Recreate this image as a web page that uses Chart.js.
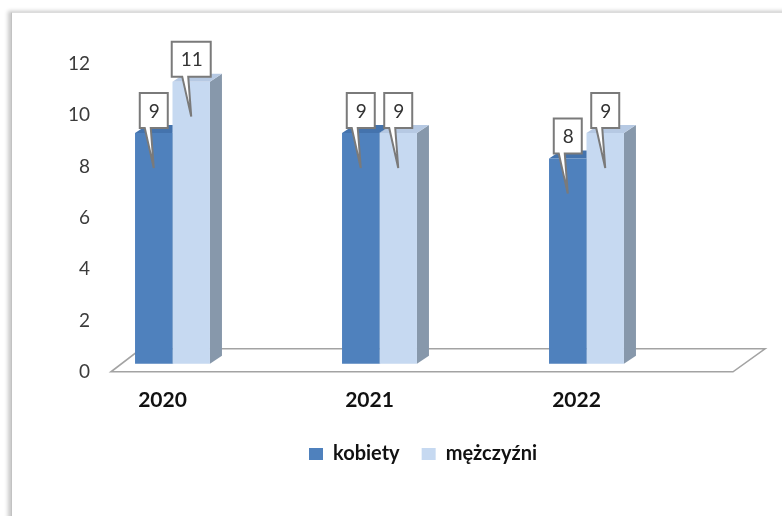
<!DOCTYPE html>
<html>
<head>
<meta charset="utf-8">
<script src="https://cdn.jsdelivr.net/npm/chart.js@4/dist/chart.umd.min.js"></script>
<style>
  html, body { margin: 0; padding: 0; background: #fff; }
  #wrap { position: relative; width: 782px; height: 516px; overflow: hidden; background: #fff; }
  #frame {
    position: absolute; left: 11px; top: 12px; width: 820px; height: 560px;
    background: #fff;
    border-left: 1px solid #c2c2c2; border-top: 1px solid #dcdcdc;
    box-shadow: -3px -1px 4px rgba(0, 0, 0, 0.22);
  }
  #chart { position: absolute; left: 0; top: 0; }
</style>
</head>
<body>
<div id="wrap">
  <div id="frame"></div>
  <canvas id="chart" width="782" height="516"></canvas>
</div>
<script>
// Chart data
const years = ['2020', '2021', '2022'];
const kobiety = [9, 9, 8];
const mezczyzni = [11, 9, 9];
const yTicks = [0, 2, 4, 6, 8, 10, 12];

const FONT = 'Lato, "Open Sans", sans-serif';

// Fake 3D: depth of each prism and how far the bars sit behind the floor's front edge
const DEPTH_X = 12, DEPTH_Y = -8;
const SHIFT_X = 10, SHIFT_Y = -8;

const faces = [
  { top: '#4473ad', side: '#3b618f' },   // kobiety
  { top: '#b6c9e3', side: '#8798ab' }    // mężczyźni
];

function poly(ctx, pts, fill) {
  ctx.beginPath();
  ctx.moveTo(pts[0][0], pts[0][1]);
  for (let i = 1; i < pts.length; i++) ctx.lineTo(pts[i][0], pts[i][1]);
  ctx.closePath();
  ctx.fillStyle = fill;
  ctx.fill();
}

const prismPlugin = {
  id: 'prism',
  afterLayout(chart) {
    // move the legend row under the bars
    const lg = chart.legend;
    if (!lg || !lg.lineWidths) return;
    const pad = lg.options.labels.padding;
    const startX = (lg.left + pad + lg.right - lg.lineWidths[0]) / 2;
    const dx = 309 - startX;
    lg.left += dx; lg.right += dx;
    lg.top -= 7; lg.bottom -= 7;
  },
  beforeDatasetsDraw(chart) {
    const { ctx, chartArea: a, scales: { y } } = chart;
    const y0 = y.getPixelForValue(0);
    // floor
    ctx.save();
    ctx.beginPath();
    ctx.moveTo(a.left + 52, y0);
    ctx.lineTo(a.right + 53, y0);
    ctx.lineTo(a.right + 85, y0 - 23);
    ctx.lineTo(a.left + 82, y0 - 23);
    ctx.closePath();
    ctx.fillStyle = '#ffffff';
    ctx.fill();
    ctx.strokeStyle = '#a3a3a3';
    ctx.lineWidth = 1.6;
    ctx.stroke();
    ctx.restore();

    // top and side faces, then the library draws the front faces on top
    ctx.save();
    ctx.translate(SHIFT_X, SHIFT_Y);
    chart.data.datasets.forEach((ds, i) => {
      chart.getDatasetMeta(i).data.forEach(bar => {
        const { x, y: t, base, width } = bar.getProps(['x', 'y', 'base', 'width'], true);
        const l = x - width / 2, r = x + width / 2;
        poly(ctx, [[r, t], [r + DEPTH_X, t + DEPTH_Y], [r + DEPTH_X, base + DEPTH_Y], [r, base]], faces[i].side);
        poly(ctx, [[l, t], [r, t], [r + DEPTH_X, t + DEPTH_Y], [l + DEPTH_X, t + DEPTH_Y]], faces[i].top);
      });
    });
  },
  afterDatasetsDraw(chart) {
    const { ctx } = chart;
    ctx.restore();

    // value callouts
    ctx.save();
    ctx.translate(SHIFT_X, SHIFT_Y);
    ctx.font = '19px ' + FONT;
    ctx.textAlign = 'center';
    ctx.textBaseline = 'middle';
    chart.data.datasets.forEach((ds, i) => {
      chart.getDatasetMeta(i).data.forEach((bar, j) => {
        const txt = String(ds.data[j]);
        const w = txt.length > 1 ? 39 : 28, h = 35;
        const cx = bar.x;
        const bottom = bar.y - 5, top = bottom - h;
        const l = cx - w / 2, r = cx + w / 2;
        const tipY = bar.y + 35;
        ctx.beginPath();
        ctx.moveTo(l, top);
        ctx.lineTo(r, top);
        ctx.lineTo(r, bottom);
        ctx.lineTo(cx - 3, bottom);
        ctx.lineTo(cx, tipY);
        ctx.lineTo(cx - 9, bottom);
        ctx.lineTo(l, bottom);
        ctx.closePath();
        ctx.fillStyle = '#ffffff';
        ctx.fill();
        ctx.strokeStyle = '#7a7a7a';
        ctx.lineWidth = 2;
        ctx.lineJoin = 'miter';
        ctx.stroke();
        ctx.fillStyle = '#333333';
        ctx.fillText(txt, cx + 0.5, top + h / 2 + 1);
      });
    });
    ctx.restore();
  }
};

new Chart(document.getElementById('chart'), {
  type: 'bar',
  data: {
    labels: years,
    datasets: [
      { label: 'kobiety', data: kobiety, backgroundColor: '#4f81bd', borderWidth: 0 },
      { label: 'mężczyźni', data: mezczyzni, backgroundColor: '#c6d9f1', borderWidth: 0 }
    ]
  },
  options: {
    responsive: false,
    animation: false,
    layout: { padding: { left: 41, right: 102, top: 64, bottom: 35 } },
    datasets: { bar: { categoryPercentage: 0.362, barPercentage: 1, clip: false } },
    scales: {
      x: {
        grid: { display: false, drawTicks: false },
        border: { display: false },
        ticks: { font: { family: FONT, size: 21, weight: 'bold' }, color: '#111111', padding: 16 }
      },
      y: {
        min: 0, max: 12,
        grid: { display: false, drawTicks: false },
        border: { display: false },
        afterBuildTicks: s => { s.ticks = yTicks.map(v => ({ value: v })); },
        ticks: {
          mirror: true, crossAlign: 'far', padding: 9,
          font: { family: FONT, size: 19 }, color: '#3b3b3b'
        }
      }
    },
    plugins: {
      legend: {
        position: 'bottom',
        labels: {
          boxWidth: 14, boxHeight: 12, padding: 22,
          font: { family: FONT, size: 20, weight: 'bold' }, color: '#111111'
        }
      },
      tooltip: { enabled: false }
    }
  },
  plugins: [prismPlugin]
});
</script>
</body>
</html>
